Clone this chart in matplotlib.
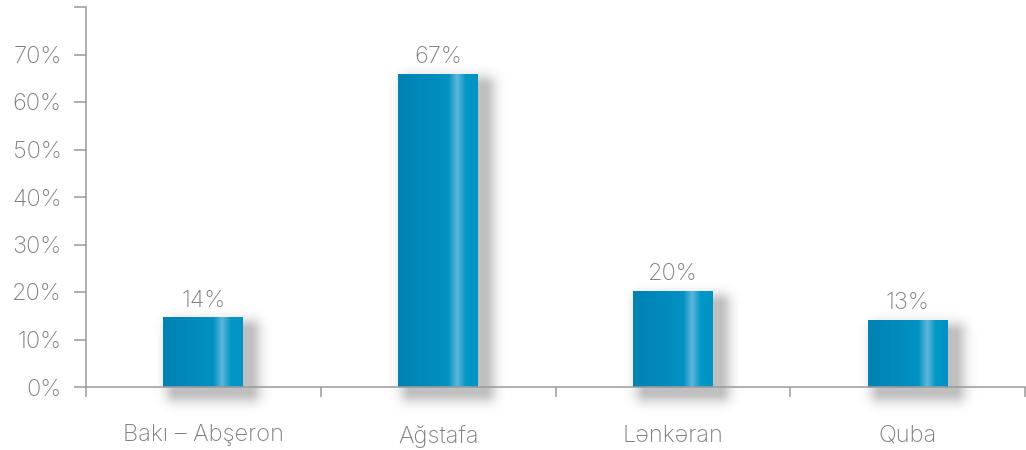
import numpy as np
import matplotlib
matplotlib.use("Agg")
import matplotlib.pyplot as plt
from matplotlib.colors import LinearSegmentedColormap
from matplotlib import font_manager

regions = ["Bakı – Abşeron", "Ağstafa", "Lənkəran", "Quba"]
shares = [14.7, 66.0, 20.2, 14.1]          # bar heights as drawn
share_labels = ["14%", "67%", "20%", "13%"]
y_ticks = [0, 10, 20, 30, 40, 50, 60, 70, 80]
y_tick_labels = ["0%", "10%", "20%", "30%", "40%", "50%", "60%", "70%", ""]

# pick a light face if one is installed
light_fam = "Lato"
for f in font_manager.fontManager.ttflist:
    if f.weight in (200, 300, "light", "extra light") and f.name in ("Lato", "Roboto", "Open Sans", "Inter"):
        light_fam = f.name
        break
plt.rcParams['font.family'] = [light_fam, 'DejaVu Sans']
grey = "#7f7f7f"
fs = 17

fig = plt.figure(figsize=(10.26, 4.5), dpi=100)
ax = fig.add_axes([86 / 1026, 63 / 450, 939 / 1026, 380 / 450])
ax.set_xlim(0, len(regions))
ax.set_ylim(0, 80)

x = np.arange(len(regions)) + 0.5
bar_w = 0.34
px_x = 939 / len(regions)   # pixels per x unit
px_y = 380 / 80             # pixels per y unit

# metallic blue gradient across each bar
bar_cmap = LinearSegmentedColormap.from_list("bar", [
    (0.0, "#0082b4"), (0.45, "#008cbe"), (0.63, "#0092c3"),
    (0.74, "#5eb6d9"), (0.85, "#0097c7"), (1.0, "#0094c4")])
grad = np.linspace(0, 1, 256).reshape(1, -1)

# soft shadow down / right of each bar (worked out in pixels)
off_x, off_y, sig = 9, -7, 8
for xi, h in zip(x, shares):
    w_px, h_px = bar_w * px_x, h * px_y
    x0, x1 = off_x + 4, w_px + off_x - 2
    y0, y1 = off_y + 2, h_px + off_y - 6
    gx = np.linspace(-10, w_px + 45, 220)
    gy = np.linspace(-35, h_px + 10, 300)
    X, Y = np.meshgrid(gx, gy)
    dx = np.maximum(np.maximum(x0 - X, X - x1), 0) / sig
    dy = np.maximum(np.maximum(y0 - Y, Y - y1), 0) / sig
    a = np.exp(-0.5 * (dx ** 2 + dy ** 2)) * 0.36
    rgba = np.zeros(a.shape + (4,))
    rgba[..., :3] = 0.3
    rgba[..., 3] = a
    left = xi - bar_w / 2
    ax.imshow(rgba, extent=(left + gx[0] / px_x, left + gx[-1] / px_x,
                            gy[0] / px_y, gy[-1] / px_y),
              origin="lower", aspect="auto", zorder=1,
              interpolation="bilinear", clip_on=False)

bars = ax.bar(x, shares, width=bar_w, color="none", zorder=2)
for b in bars:
    im = ax.imshow(grad, cmap=bar_cmap, aspect="auto", zorder=3,
                   interpolation="bilinear",
                   extent=(b.get_x(), b.get_x() + b.get_width(), 0, b.get_height()))
    im.set_clip_path(b)

for xi, h, lab in zip(x, shares, share_labels):
    ax.annotate(lab, (xi, h), xytext=(0, 4), textcoords="offset points",
                ha="center", va="bottom", fontsize=fs, color=grey,
                fontweight="light")

ax.set_xlim(0, len(regions))
ax.set_ylim(0, 80)
ax.set_yticks(y_ticks)
ax.set_yticklabels(y_tick_labels)
ax.set_xticks(x)
ax.set_xticklabels(regions)
ax.set_xticks(np.arange(len(regions) + 1), minor=True)

for s in ["top", "right"]:
    ax.spines[s].set_visible(False)
for s in ["left", "bottom"]:
    ax.spines[s].set_color("#9a9a9a")
    ax.spines[s].set_linewidth(1.1)
    ax.spines[s].set_zorder(4)

ax.tick_params(axis="y", length=8.6, width=1.1, color="#9a9a9a", pad=9,
               labelsize=fs, labelcolor=grey)
ax.tick_params(axis="x", which="major", length=0, pad=27,
               labelsize=fs, labelcolor=grey)
ax.tick_params(axis="x", which="minor", length=7, width=1.1, color="#9a9a9a")
for t in ax.get_xticklabels() + ax.get_yticklabels():
    t.set_fontweight("light")

fig.savefig("out.png", dpi=100, facecolor="white")
